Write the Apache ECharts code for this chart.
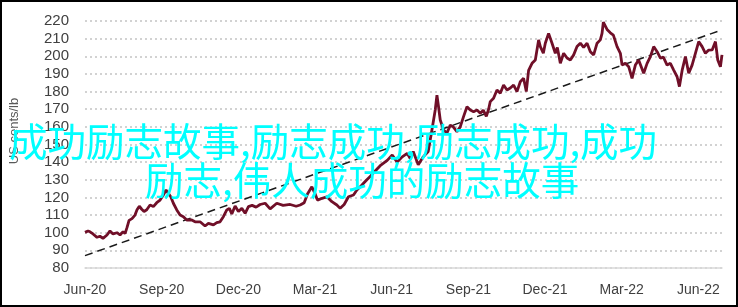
<!DOCTYPE html>
<html>
<head>
<meta charset="utf-8">
<script src="https://cdn.jsdelivr.net/npm/echarts@6/dist/echarts.min.js"></script>
<style>
html,body{margin:0;padding:0;background:#fff;}
#chart{width:738px;height:307px;}
</style>
</head>
<body>
<div id="chart"></div>
<script>
// x positions in weeks from the start (Jun-20), price in US cents/lb
const weeks = [0,0.51,0.85,1.36,2.04,2.54,3.05,3.73,4.24,4.75,5.43,5.94,6.45,6.79,7.13,7.47,7.97,8.48,8.82,9.21,9.62,10.01,10.47,11.03,11.59,12.16,12.73,13.28,13.74,14.13,14.54,14.98,15.56,16.12,16.68,17.25,18.10,18.66,19.51,20.36,20.92,21.77,22.34,22.90,23.46,24.04,24.48,24.89,25.45,26.01,26.59,27.15,27.71,28.33,29.01,29.69,30.54,31.39,32.52,33.59,34.78,35.80,36.48,37.16,37.72,38.46,39.02,39.41,40.21,41.01,41.86,42.70,43.26,43.94,44.67,45.52,46.10,46.66,47.22,47.79,48.35,48.91,50.05,51.24,52.09,52.93,53.78,54.63,55.14,55.65,56.50,57.35,58.19,58.82,59.38,59.67,59.94,60.23,60.79,61.37,61.93,62.43,63.06,63.62,64.18,64.76,65.32,65.88,66.46,67.02,67.53,68.04,68.43,68.71,69.27,69.85,70.41,70.97,71.55,72.11,72.67,73.24,73.80,74.36,74.82,75.21,75.79,76.35,76.91,77.20,77.71,78.04,78.60,79.18,79.74,80.08,80.59,81.15,81.73,82.29,82.85,83.42,83.98,84.54,85.12,85.68,86.24,86.82,87.37,87.66,87.88,88.51,89.07,89.58,90.21,90.77,91.06,91.62,92.18,92.75,93.31,93.87,94.72,95.30,95.86,96.42,97.00,97.56,98.06,98.69,99.25,99.81,100.39,100.78,101.24,101.80,102.36,102.93,103.49,104.05,104.63,105.19,105.75,106.33,106.89,107.28,107.73,108];
const prices = [100.2,101,100.5,99.3,97.4,98,96.8,98.7,101,99.3,100,98.7,100.6,99.5,103,107,108,110,113,115,113.3,112,113,115.7,114.8,117,118.5,121.4,124.2,122.3,120.4,116.7,112.9,110,109.1,107.2,107.2,106.2,106.2,103.8,105.3,104.4,105.7,106.2,109.1,112.9,113.8,110.6,115.1,112,113.8,111,114.8,115.5,114.5,116,116.7,113.5,116.7,115.5,116,115,115.7,117,122,126,122,118.5,119.5,120.4,117.6,115.7,113.8,116,120.4,121.4,124.2,126,128,130,131.8,134,138,141,144,140,143,145,142,146,138.5,143,146,158.2,169.6,178,171.4,163.9,158.2,156.5,161,160,157.3,160,165.8,171.4,169.5,168.6,169.5,167.7,169.5,166,170,174.3,176.2,180.9,179,183.7,180.9,182,183.7,180,185.6,187.5,180,192,196,197.9,209.3,205.5,201.7,207.4,213,207.4,201.7,205,196,201.7,199,197.9,200.8,205.5,207.4,205,207.4,202.6,200.8,207.4,209.3,213,219.3,215.2,213.3,212,205.5,201.7,195,196,194.1,187.5,195,197.9,190.4,196,199.8,205.5,202.6,198.9,199.5,195,196,192.2,188.4,182.8,192,199.8,190.4,195,201.7,208.3,205.5,201.7,203.5,203.6,208.3,197.9,194.1,200.8];
const trendWeeks = [0, 108];
const trendValues = [87, 215];
const tickLabels = ['Jun-20','Sep-20','Dec-20','Mar-21','Jun-21','Sep-21','Dec-21','Mar-22','Jun-22'];
const weeksPerQuarter = 13;
const yAxisName = 'US cents/lb';
const overlayLine1 = '成功励志故事,励志成功,励志成功,成功';
const overlayLine2 = '励志,伟人成功的励志故事';

const chart = echarts.init(document.getElementById('chart'), null, {renderer:'canvas'});
const priceData = weeks.map((w,i)=>[w, prices[i]]);
const trendData = trendWeeks.map((w,i)=>[w, trendValues[i]]);
const font = 'Liberation Sans';
chart.setOption({
  animation:false,
  backgroundColor:'#fff',
  grid:{left:85, right:16, top:21, bottom:39},
  xAxis:{
    type:'value', min:0, max:108, interval:weeksPerQuarter,
    axisLine:{show:true, lineStyle:{color:'#d9d9d9', width:1.5}},
    axisTick:{show:false},
    splitLine:{show:false},
    axisLabel:{
      color:'#404040', fontSize:14, fontFamily:font, margin:15,
      showMaxLabel:false,
      formatter:function(v){
        const q = v / weeksPerQuarter;
        return (Math.abs(q-Math.round(q))<1e-6 && tickLabels[Math.round(q)]) ? tickLabels[Math.round(q)] : '';
      }
    }
  },
  yAxis:{
    type:'value', min:80, max:220, interval:10,
    axisLine:{show:false}, axisTick:{show:false},
    splitLine:{show:true, lineStyle:{color:'#c4c4c4', width:1.5, type:[2,3]}},
    axisLabel:{color:'#404040', fontSize:15, fontFamily:font, margin:16}
  },
  series:[
    {type:'line', data:trendData, symbol:'none', z:3,
     lineStyle:{color:'#1a1a1a', width:1.5, type:[8,5]}},
    {type:'line', data:priceData, symbol:'none', z:4,
     lineStyle:{color:'#700f28', width:2.8}}
  ],
  graphic:[
    {type:'text', x:14, y:131, rotation:Math.PI/2, z:10,
     style:{text:yAxisName, fill:'#595959', fontSize:13, fontFamily:font, textAlign:'center', textVerticalAlign:'middle'}},
    {type:'text', x:9, y:141, z:100,
     style:{text:overlayLine1, fill:'#00ffff', fontSize:38.5, fontFamily:'Noto Sans CJK SC', textAlign:'left', textVerticalAlign:'middle'}},
    {type:'text', x:145, y:180, z:100,
     style:{text:overlayLine2, fill:'#00ffff', fontSize:38.5, fontFamily:'Noto Sans CJK SC', textAlign:'left', textVerticalAlign:'middle'}},
    {type:'rect', z:200, shape:{x:1,y:1,width:736,height:305},
     style:{fill:'none', stroke:'#000', lineWidth:2}}
  ]
});
</script>
</body>
</html>
